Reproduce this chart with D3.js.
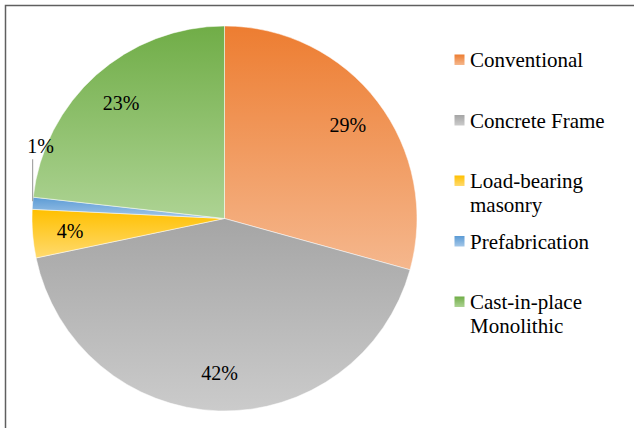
<!DOCTYPE html>
<html>
<head>
<meta charset="utf-8">
<script src="https://cdn.jsdelivr.net/npm/d3@7/dist/d3.min.js"></script>
<style>
  html, body { margin: 0; padding: 0; background: #fff; }
  svg { display: block; }
</style>
</head>
<body>
<svg id="chart" width="634" height="428"></svg>
<script>
// Share of construction methods (%)
const categories = ["Conventional", "Concrete Frame", "Load-bearing masonry", "Prefabrication", "Cast-in-place Monolithic"];
const values = [29, 42, 4, 1, 23];
const baseColors = ["#ED7D31", "#A5A5A5", "#FFC000", "#5B9BD5", "#70AD47"];
const lightColors = ["#F5B78D", "#CBCBCB", "#FFDA6E", "#A4C7E8", "#ADD393"];

const FONT = "'Liberation Serif', 'Times New Roman', Tinos, 'DejaVu Serif', serif";
const W = 634, H = 428;
const cx = 224.5, cy = 218.5, R = 192.5;
const labelR = 155;

const svg = d3.select("#chart");
const defs = svg.append("defs");

// vertical light gradient per category
categories.forEach((c, i) => {
  const g = defs.append("linearGradient")
    .attr("id", "grad" + i)
    .attr("x1", 0).attr("y1", 0).attr("x2", 0).attr("y2", 1);
  g.append("stop").attr("offset", "0%").attr("stop-color", baseColors[i]);
  g.append("stop").attr("offset", "100%").attr("stop-color", lightColors[i]);
});

// chart frame
svg.append("rect")
  .attr("x", 5.5).attr("y", 5.5)
  .attr("width", W + 10).attr("height", H + 10)
  .attr("fill", "none")
  .attr("stroke", "#5f5f5f")
  .attr("stroke-width", 1.5);

const pie = d3.pie().sort(null).value(d => d);
const arcs = pie(values);
const arc = d3.arc().innerRadius(0).outerRadius(R);
const labelArc = d3.arc().innerRadius(labelR).outerRadius(labelR);

const g = svg.append("g").attr("transform", `translate(${cx},${cy})`);

g.selectAll("path.slice")
  .data(arcs)
  .join("path")
  .attr("class", "slice")
  .attr("d", arc)
  .attr("fill", (d, i) => `url(#grad${i})`)
  .attr("stroke", "#fff")
  .attr("stroke-width", 0.5);

// data labels
const fontSize = 20;
arcs.forEach((d, i) => {
  const span = d.endAngle - d.startAngle;
  if (span > 0.15) {
    const [x, y] = labelArc.centroid(d);
    g.append("text")
      .attr("x", x).attr("y", y)
      .attr("text-anchor", "middle")
      .attr("dominant-baseline", "central")
      .attr("font-family", FONT)
      .attr("font-size", fontSize)
      .attr("fill", "#000")
      .text(values[i] + "%");
  } else {
    // thin slice: label lifted above the rim with a leader line
    const mid = (d.startAngle + d.endAngle) / 2;
    const ex = R * Math.sin(mid), ey = -R * Math.cos(mid);
    const lift = 44;
    g.append("line")
      .attr("x1", ex).attr("y1", ey - 2)
      .attr("x2", ex).attr("y2", ey - lift)
      .attr("stroke", "#a6a6a6")
      .attr("stroke-width", 1.2);
    g.append("text")
      .attr("x", ex + 8).attr("y", ey - lift - 6)
      .attr("text-anchor", "middle")
      .attr("font-family", FONT)
      .attr("font-size", fontSize)
      .attr("fill", "#000")
      .text(values[i] + "%");
  }
});

// legend: entries on an even vertical step, long names wrap
const legendX = 454.5, textX = 470, firstBaseline = 67;
const step = 60.5, lineH = 23.5, wrapWidth = 150, legendFont = 21;
const legend = svg.append("g");
categories.forEach((c, i) => {
  const baseline = firstBaseline + i * step;
  const t = legend.append("text")
    .attr("x", textX).attr("y", baseline)
    .attr("font-family", FONT)
    .attr("font-size", legendFont)
    .attr("fill", "#000");
  const words = c.split(" ");
  let lines = [], cur = [];
  words.forEach(w => {
    const trial = cur.concat(w).join(" ");
    t.text(trial);
    if (t.node().getComputedTextLength() > wrapWidth && cur.length) {
      lines.push(cur.join(" "));
      cur = [w];
    } else {
      cur.push(w);
    }
  });
  lines.push(cur.join(" "));
  t.text(null);
  lines.forEach((ln, k) => {
    t.append("tspan").attr("x", textX).attr("y", baseline + k * lineH).text(ln);
  });
  legend.append("rect")
    .attr("x", legendX).attr("y", baseline - 12.5)
    .attr("width", 10).attr("height", 10.5)
    .attr("fill", `url(#grad${i})`);
});
</script>
</body>
</html>
